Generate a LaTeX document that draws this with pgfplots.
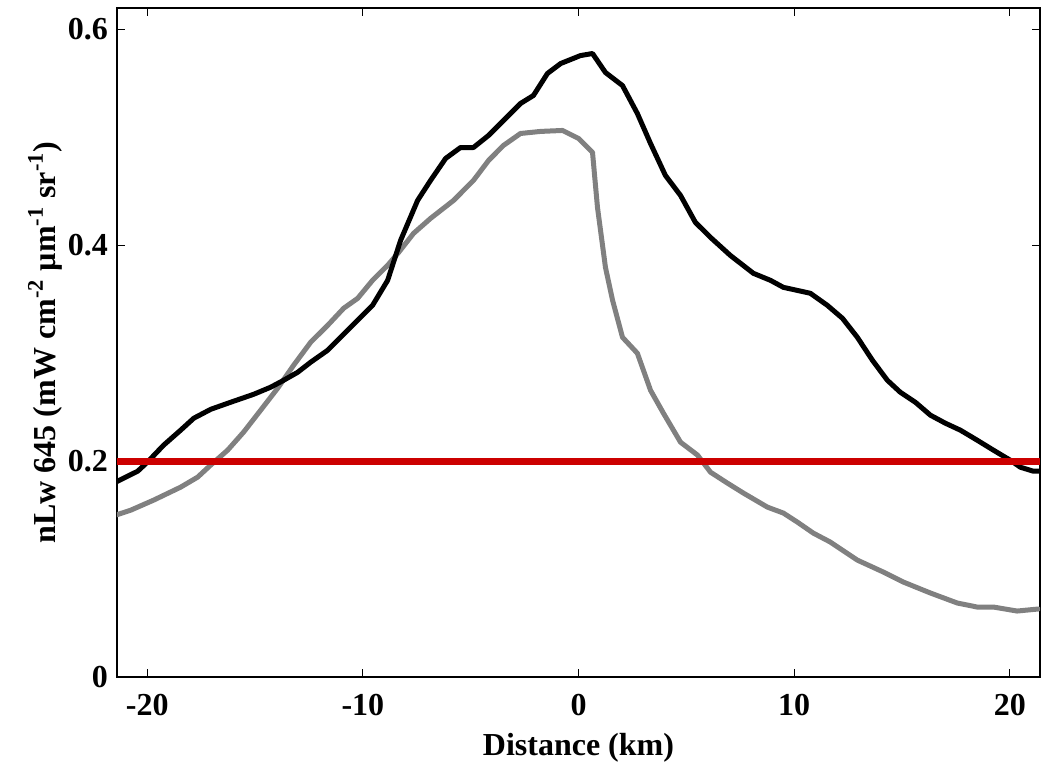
\documentclass[border=0pt]{standalone}
\usepackage{pgfplots}
\pgfplotsset{compat=1.18}
\usepackage{fontspec}
\setmainfont{Liberation Serif}
\definecolor{lineGray}{HTML}{808080}
\definecolor{lineRed}{HTML}{CC0000}

\begin{document}
\begin{tikzpicture}
\begin{axis}[
  name=main,
  width=461.5pt, height=334.5pt,
  scale only axis,
  xmin=-21.4, xmax=21.4,
  ymin=0, ymax=0.62,
  xtick={-20,-10,0,10,20},
  xticklabels={-20,-10,0,10,20},
  ytick={0,0.2,0.4,0.6},
  yticklabels={0,0.2,0.4,0.6},
  tick align=inside,
  tick pos=both,
  major tick length=4pt,
  axis line style={line width=0.6pt},
  tick style={line width=0.6pt, black},
  ticklabel style={font=\fontsize{16}{18}\selectfont\bfseries},
  xticklabel style={yshift=-5pt},
  yticklabel style={xshift=-1pt},
  label style={font=\fontsize{16}{18}\selectfont\bfseries},
  xlabel={Distance (km)},
  ylabel={nLw 645 (mW cm\textsuperscript{-2} µm\textsuperscript{-1} sr\textsuperscript{-1})},
  xlabel style={yshift=-2pt},
  ylabel style={yshift=-4pt},
  every axis plot/.append style={line join=round, line cap=round},
]

% gray profile
\addplot[color=lineGray, line width=2.5pt] coordinates {
(-21.46,0.1500)(-20.76,0.1546)(-19.70,0.1639)(-18.45,0.1759)(-17.66,0.1852)
(-17.06,0.1963)(-16.27,0.2102)(-15.53,0.2269)(-14.74,0.2472)(-13.95,0.2676)
(-13.21,0.2889)(-12.42,0.3102)(-11.63,0.3259)(-10.89,0.3417)(-10.24,0.3509)
(-9.55,0.3676)(-8.85,0.3815)(-8.34,0.3935)(-7.65,0.4111)(-6.86,0.4250)
(-5.79,0.4417)(-4.87,0.4602)(-4.17,0.4787)(-3.48,0.4926)(-2.69,0.5037)
(-1.76,0.5056)(-0.74,0.5065)(0.00,0.4991)(0.65,0.4861)(0.88,0.4352)
(1.25,0.3796)(1.58,0.3491)(2.04,0.3148)(2.73,0.3000)(3.34,0.2657)
(3.94,0.2444)(4.73,0.2176)(5.52,0.2056)(6.12,0.1898)(6.91,0.1796)
(7.65,0.1704)(8.76,0.1574)(9.50,0.1519)(10.15,0.1435)(10.89,0.1333)
(11.68,0.1250)(12.93,0.1083)(14.14,0.0972)(15.06,0.0880)(16.32,0.0778)
(17.57,0.0685)(18.49,0.0648)(19.24,0.0648)(20.34,0.0611)(21.32,0.0630)
};

% black profile
\addplot[color=black, line width=2.5pt] coordinates {
(-21.46,0.1806)(-20.44,0.1907)(-19.99,0.1991)(-19.24,0.2148)(-18.45,0.2287)
(-17.84,0.2398)(-17.05,0.2481)(-16.13,0.2546)(-15.06,0.2620)(-14.28,0.2685)
(-13.67,0.2750)(-13.02,0.2824)(-12.42,0.2917)(-11.63,0.3028)(-11.03,0.3148)
(-10.24,0.3306)(-9.55,0.3444)(-8.85,0.3676)(-8.25,0.4046)(-7.46,0.4417)
(-6.86,0.4602)(-6.16,0.4806)(-5.47,0.4907)(-4.87,0.4907)(-4.17,0.5019)
(-3.48,0.5157)(-2.69,0.5315)(-2.09,0.5389)(-1.44,0.5593)(-0.83,0.5685)
(0.09,0.5759)(0.65,0.5778)(1.25,0.5602)(2.04,0.5481)(2.73,0.5222)
(3.34,0.4944)(4.03,0.4648)(4.73,0.4463)(5.42,0.4213)(6.12,0.4074)
(7.04,0.3907)(8.11,0.3741)(8.90,0.3676)(9.50,0.3611)(10.75,0.3556)
(11.54,0.3444)(12.24,0.3324)(12.93,0.3148)(13.63,0.2935)(14.32,0.2750)
(14.92,0.2639)(15.62,0.2546)(16.32,0.2426)(17.01,0.2352)(17.71,0.2287)
(18.49,0.2194)(19.24,0.2102)(20.02,0.2009)(20.49,0.1944)(21.09,0.1907)
(21.37,0.1907)
};

% threshold
\addplot[color=lineRed, line width=3.5pt, line cap=butt] coordinates {(-21.4,0.2)(21.4,0.2)};

\end{axis}
\path (main.south west) ++(-58.5pt,-40pt) coordinate (bbl);
\path (main.north east) ++(3.5pt,4pt) coordinate (bbr);
\path (bbl) rectangle (bbr);
\end{tikzpicture}
\end{document}
